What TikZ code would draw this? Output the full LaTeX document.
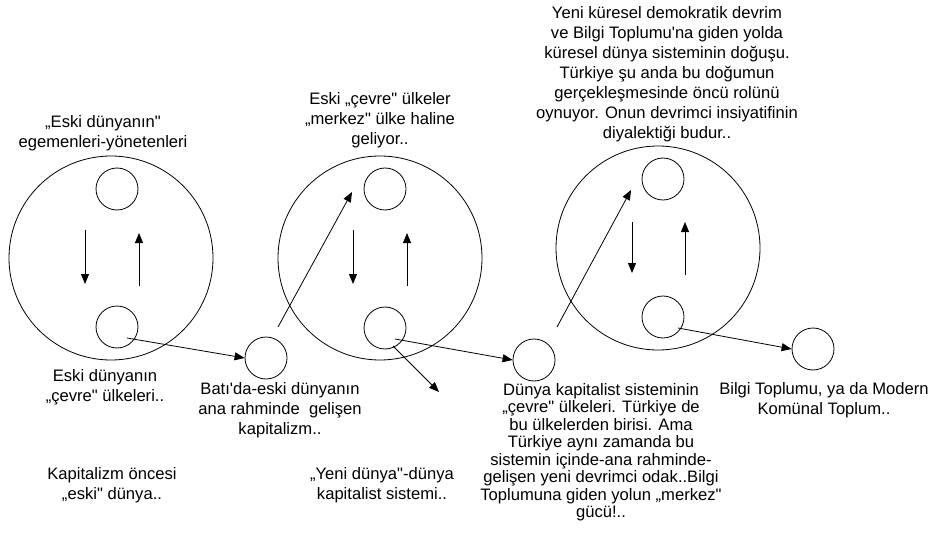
\documentclass[tikz,border=0pt]{standalone}
\usepackage{fontspec}
\setmainfont{Liberation Sans}[Ligatures=TeXOff]
\usetikzlibrary{arrows.meta}
\begin{document}
\begin{tikzpicture}[x=1pt,y=-1pt,
  big/.style={draw,circle,line width=0.8pt,minimum size=204pt,inner sep=0pt},
  small/.style={draw,circle,line width=0.8pt,minimum size=42pt,inner sep=0pt},
  conn/.style={line width=0.8pt,-{Triangle[length=10pt,width=8pt]}},
  lbl/.style={align=center,inner sep=0pt,font=\fontsize{16.6}{20}\selectfont},
  lblb/.style={align=center,inner sep=0pt,font=\fontsize{16.6}{17.5}\selectfont}]
\useasboundingbox (0,0) rectangle (941,553);
% big circles
\node[big] (B1) at (111,258) {};
\node[big] (B2) at (380,258) {};
\node[big] (B3) at (658,248) {};
% small circles
\node[small] (t1) at (117,189) {};
\node[small] (b1) at (117,327) {};
\node[small] (t2) at (385,189) {};
\node[small] (b2) at (385,328) {};
\node[small] (t3) at (663,179) {};
\node[small] (b3) at (663,317) {};
\node[small] (bt) at (266,358) {};
\node[small] (du) at (534,360) {};
\node[small] (bi) at (813,349) {};
% vertical arrows
\coordinate (d1a) at (85,230); \coordinate (d1b) at (85,284);
\coordinate (u1a) at (139,286); \coordinate (u1b) at (139,233);
\coordinate (d2a) at (353,230); \coordinate (d2b) at (353,284);
\coordinate (u2a) at (407,286); \coordinate (u2b) at (407,233);
\coordinate (d3a) at (632,222); \coordinate (d3b) at (632,273);
\coordinate (u3a) at (685,275); \coordinate (u3b) at (685,222);
\draw[conn] (d1a) -- (d1b);
\draw[conn] (u1a) -- (u1b);
\draw[conn] (d2a) -- (d2b);
\draw[conn] (u2a) -- (u2b);
\draw[conn] (d3a) -- (d3b);
\draw[conn] (u3a) -- (u3b);
% connectors
\coordinate (s1) at (127,338);
\draw[conn] (s1) -- (bt.west);
\coordinate (s2) at (278,327); \coordinate (e2) at (352,192);
\draw[conn] (s2) -- (e2);
\coordinate (s3) at (395,339);
\draw[conn] (s3) -- (du.west);
\coordinate (s4) at (393,346); \coordinate (e4) at (439,392);
\draw[conn] (s4) -- (e4);
\coordinate (s5) at (557,327); \coordinate (e5) at (631,190);
\draw[conn] (s5) -- (e5);
\coordinate (s6) at (678,328);
\draw[conn] (s6) -- (bi.west);
% labels
\node[lbl] (L1) at (103,133) {„Eski dünyanın"\\egemenleri-yönetenleri};
\node[lbl] (L2) at (380,120) {Eski „çevre" ülkeler\\„merkez" ülke haline\\geliyor..};
\node[lbl] (L3) at (667,74) {Yeni küresel demokratik devrim\\ve Bilgi Toplumu'na giden yolda\\küresel dünya sisteminin doğuşu.\\Türkiye şu anda bu doğumun\\gerçekleşmesinde öncü rolünü\\oynuyor. Onun devrimci insiyatifinin\\diyalektiği budur..};
\node[lbl] (L4) at (105,387) {Eski dünyanın\\„çevre" ülkeleri..};
\node[lbl] (L5) at (280,410) {Batı'da-eski dünyanın\\ana rahminde\ \ gelişen\\kapitalizm..};
\node[lbl] (L6) at (112,485) {Kapitalizm öncesi\\„eski" dünya..};
\node[lbl] (L7) at (382,485) {„Yeni dünya"-dünya\\kapitalist sistemi..};
\node[lblb] (L8) at (601,452) {Dünya kapitalist sisteminin\\„çevre" ülkeleri. Türkiye de\\bu ülkelerden birisi. Ama\\Türkiye aynı\ zamanda bu\\sistemin içinde-ana rahminde-\\gelişen yeni devrimci odak..Bilgi\\Toplumuna giden yolun „merkez"\\gücü!..};
\node[lbl] (L9) at (824,400) {Bilgi Toplumu, ya da Modern\\Komünal Toplum..};
\end{tikzpicture}
\end{document}
